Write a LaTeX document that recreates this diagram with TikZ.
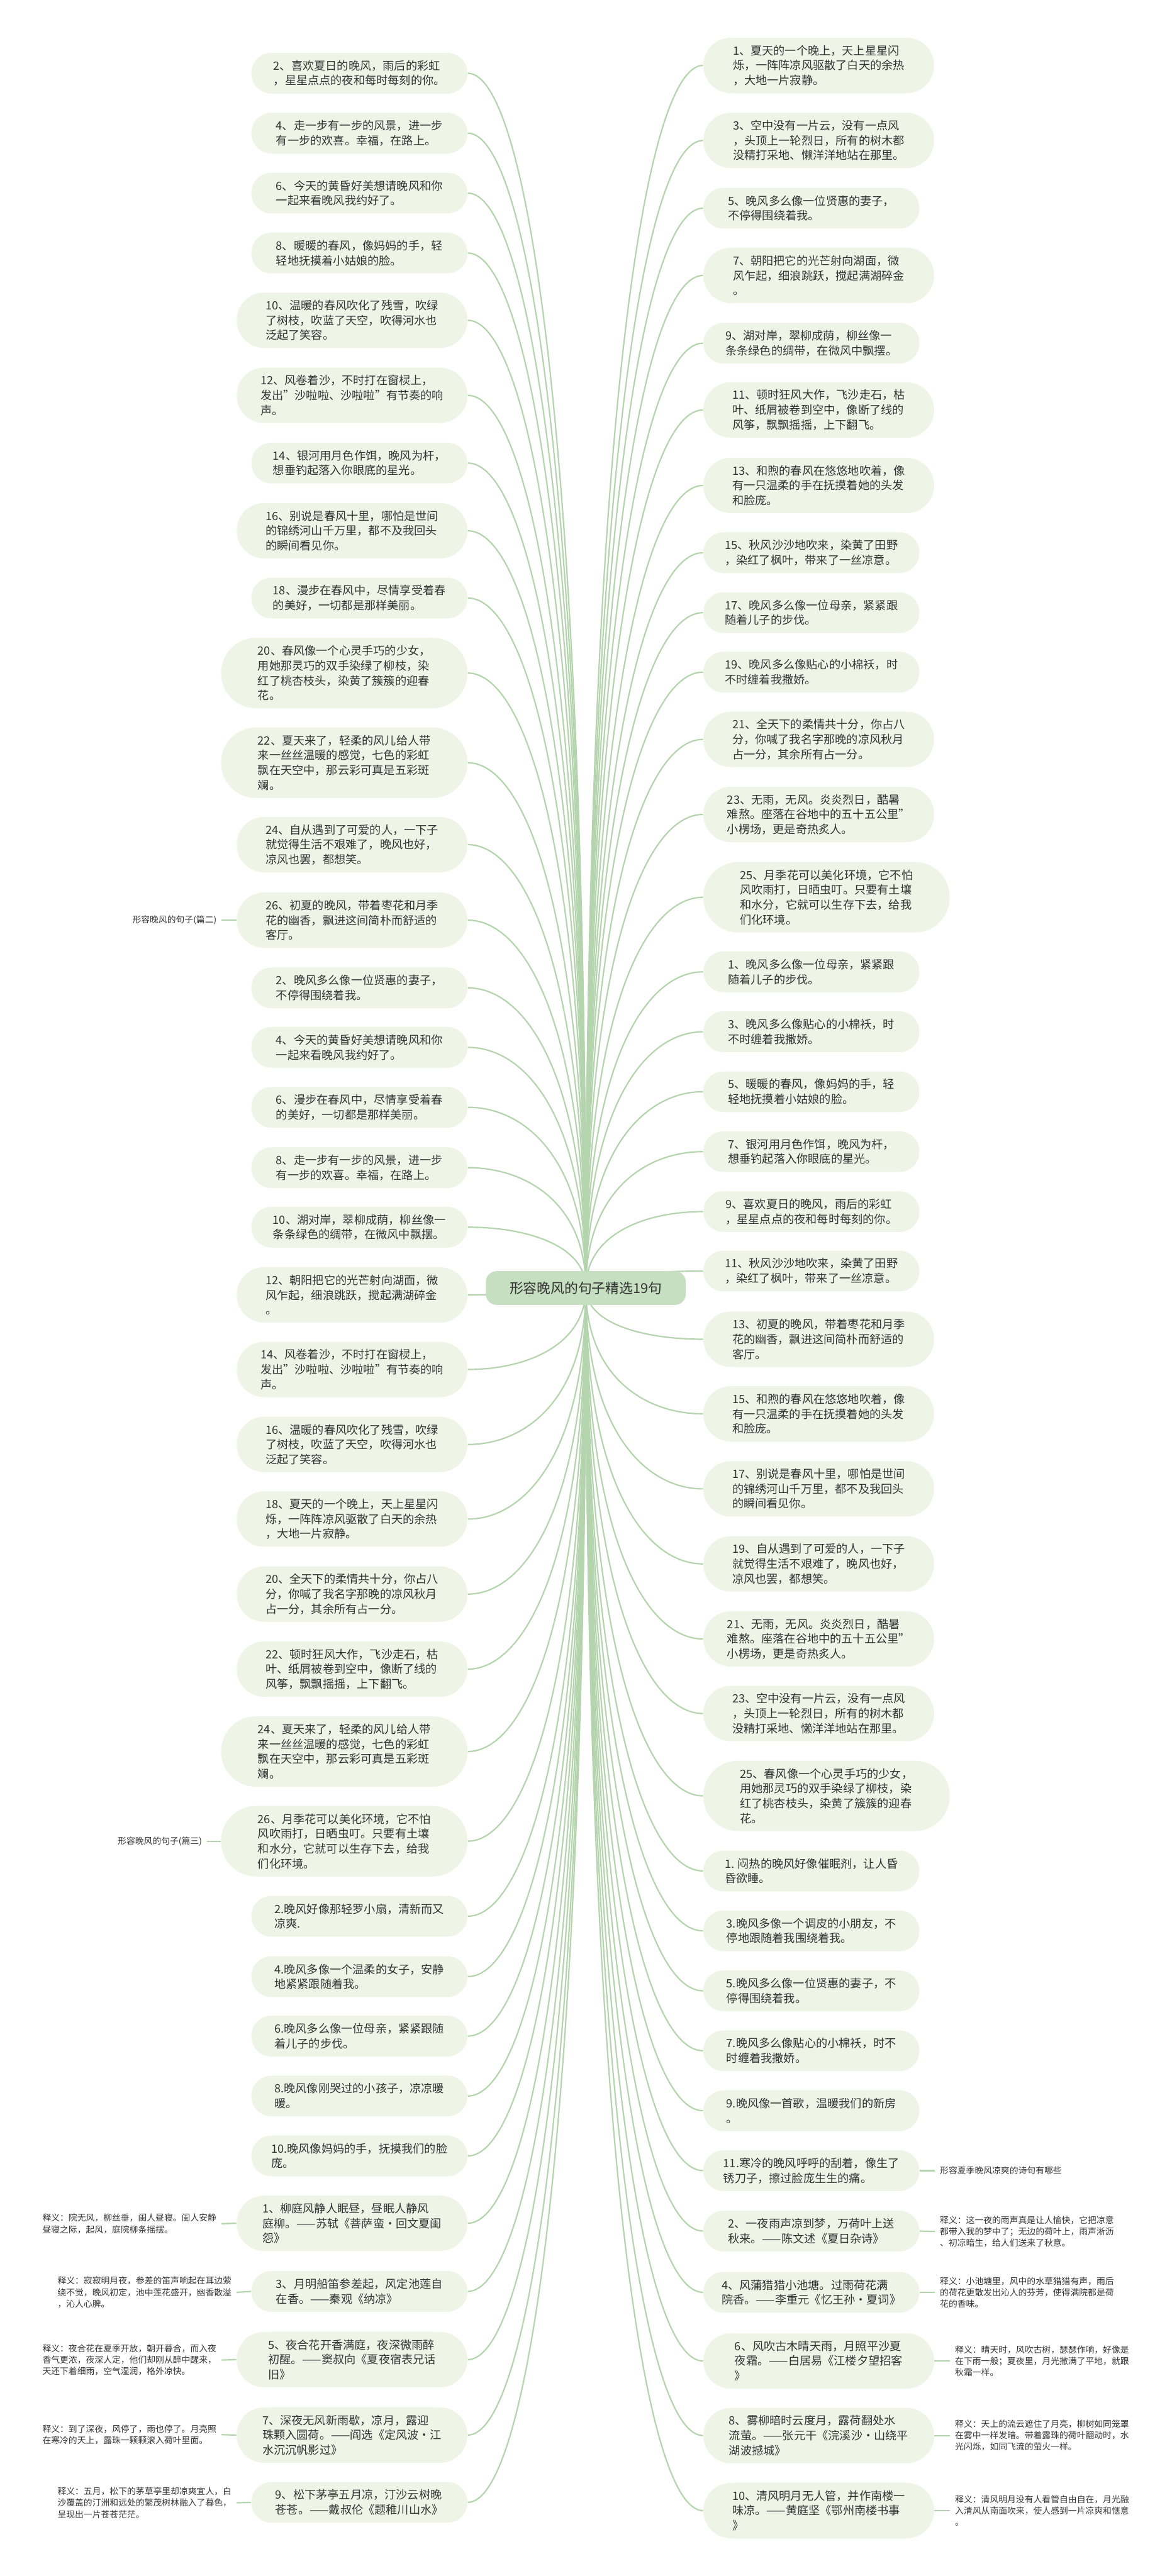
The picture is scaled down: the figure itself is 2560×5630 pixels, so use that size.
\documentclass[tikz,border=0pt]{standalone}
\usepackage{fontspec}
\setmainfont{Noto Sans CJK SC}
\usetikzlibrary{calc,backgrounds}
\definecolor{boxfill}{HTML}{EEF5E7}
\definecolor{rootfill}{HTML}{C6DFC0}
\definecolor{linec}{HTML}{B4D4AE}
\definecolor{txt}{HTML}{333333}
\pgfdeclarelayer{lines}
\pgfsetlayers{background,lines,main}
\newcommand\bfnt{\fontsize{6.25pt}{8.125pt}\selectfont}
\newcommand\nfnt{\fontsize{4.75pt}{6.25pt}\selectfont}
\newcommand\toroot[2]{\draw[conn] (#1.#2) .. controls ($(#1.#2)!0.5!(root.center|-#1.#2)$) and ($(root.center|-#1.#2)!0.3!(root.center)$) .. (root.center);}
\tikzset{
  every node/.style={text=txt},
  cbox/.style={fill=boxfill, align=left, font=\bfnt, inner sep=0pt},
  b2/.style={cbox, minimum width=118pt, minimum height=22.25pt, rounded corners=11pt},
  b3/.style={cbox, minimum width=126pt, minimum height=30.25pt, rounded corners=15pt},
  b4/.style={cbox, minimum width=134.5pt, minimum height=38.5pt, rounded corners=19pt},
  lft/.style={anchor=east},
  rgt/.style={anchor=west},
  note/.style={font=\nfnt, align=left, inner xsep=2.5pt, inner ysep=0pt},
  rootbox/.style={fill=rootfill, rounded corners=6pt, minimum width=109.25pt, minimum height=18.5pt, inner sep=0pt, font=\fontsize{7.5pt}{9pt}\selectfont},
  conn/.style={draw=linec, line width=0.75pt},
}
\begin{document}
\begin{tikzpicture}[x=0.25pt,y=-0.25pt]
\useasboundingbox (0,0) rectangle (2560,5630);
\begin{pgfonlayer}{background}
\fill[white] (0,0) rectangle (2560,5630);
\end{pgfonlayer}

\node[rootbox] (root) at (1280,2815) {形容晚风的句子精选19句};

% ---------- left column ----------
\node[b2,lft] (L1) at (1022,160) {2、喜欢夏日的晚风，雨后的彩虹\\，星星点点的夜和每时每刻的你。};
\node[b2,lft] (L2) at (1022,291) {4、走一步有一步的风景，进一步\\有一步的欢喜。幸福，在路上。};
\node[b2,lft] (L3) at (1022,422) {6、今天的黄昏好美想请晚风和你\\一起来看晚风我约好了。};
\node[b2,lft] (L4) at (1022,553) {8、暖暖的春风，像妈妈的手，轻\\轻地抚摸着小姑娘的脸。};
\node[b3,lft] (L5) at (1022,700) {10、温暖的春风吹化了残雪，吹绿\\了树枝，吹蓝了天空，吹得河水也\\泛起了笑容。};
\node[b3,lft] (L6) at (1022,864) {12、风卷着沙，不时打在窗棂上，\\发出"沙啦啦、沙啦啦"有节奏的响\\声。};
\node[b2,lft] (L7) at (1022,1012) {14、银河用月色作饵，晚风为杆，\\想垂钓起落入你眼底的星光。};
\node[b3,lft] (L8) at (1022,1160) {16、别说是春风十里，哪怕是世间\\的锦绣河山千万里，都不及我回头\\的瞬间看见你。};
\node[b2,lft] (L9) at (1022,1307) {18、漫步在春风中，尽情享受着春\\的美好，一切都是那样美丽。};
\node[b4,lft] (L10) at (1022,1471) {20、春风像一个心灵手巧的少女，\\用她那灵巧的双手染绿了柳枝，染\\红了桃杏枝头，染黄了簇簇的迎春\\花。};
\node[b4,lft] (L11) at (1022,1667) {22、夏天来了，轻柔的风儿给人带\\来一丝丝温暖的感觉，七色的彩虹\\飘在天空中，那云彩可真是五彩斑\\斓。};
\node[b3,lft] (L12) at (1022,1846) {24、自从遇到了可爱的人，一下子\\就觉得生活不艰难了，晚风也好，\\凉风也罢，都想笑。};
\node[b3,lft] (L13) at (1022,2011) {26、初夏的晚风，带着枣花和月季\\花的幽香，飘进这间简朴而舒适的\\客厅。};
\node[b2,lft] (L14) at (1022,2159) {2、晚风多么像一位贤惠的妻子，\\不停得围绕着我。};
\node[b2,lft] (L15) at (1022,2289) {4、今天的黄昏好美想请晚风和你\\一起来看晚风我约好了。};
\node[b2,lft] (L16) at (1022,2420) {6、漫步在春风中，尽情享受着春\\的美好，一切都是那样美丽。};
\node[b2,lft] (L17) at (1022,2552) {8、走一步有一步的风景，进一步\\有一步的欢喜。幸福，在路上。};
\node[b2,lft] (L18) at (1022,2682) {10、湖对岸，翠柳成荫，柳丝像一\\条条绿色的绸带，在微风中飘摆。};
\node[b3,lft] (L19) at (1022,2830) {12、朝阳把它的光芒射向湖面，微\\风乍起，细浪跳跃，搅起满湖碎金\\。};
\node[b3,lft] (L20) at (1022,2993) {14、风卷着沙，不时打在窗棂上，\\发出"沙啦啦、沙啦啦"有节奏的响\\声。};
\node[b3,lft] (L21) at (1022,3157) {16、温暖的春风吹化了残雪，吹绿\\了树枝，吹蓝了天空，吹得河水也\\泛起了笑容。};
\node[b3,lft] (L22) at (1022,3320) {18、夏天的一个晚上，天上星星闪\\烁，一阵阵凉风驱散了白天的余热\\，大地一片寂静。};
\node[b3,lft] (L23) at (1022,3484) {20、全天下的柔情共十分，你占八\\分，你喊了我名字那晚的凉风秋月\\占一分，其余所有占一分。};
\node[b3,lft] (L24) at (1022,3648) {22、顿时狂风大作，飞沙走石，枯\\叶、纸屑被卷到空中，像断了线的\\风筝，飘飘摇摇，上下翻飞。};
\node[b4,lft] (L25) at (1022,3828) {24、夏天来了，轻柔的风儿给人带\\来一丝丝温暖的感觉，七色的彩虹\\飘在天空中，那云彩可真是五彩斑\\斓。};
\node[b4,lft] (L26) at (1022,4024) {26、月季花可以美化环境，它不怕\\风吹雨打，日晒虫叮。只要有土壤\\和水分，它就可以生存下去，给我\\们化环境。};
\node[b2,lft] (L27) at (1022,4188) {2.晚风好像那轻罗小扇，清新而又\\凉爽.};
\node[b2,lft] (L28) at (1022,4320) {4.晚风多像一个温柔的女子，安静\\地紧紧跟随着我。};
\node[b2,lft] (L29) at (1022,4450) {6.晚风多么像一位母亲，紧紧跟随\\着儿子的步伐。};
\node[b2,lft] (L30) at (1022,4581) {8.晚风像刚哭过的小孩子，凉凉暖\\暖。};
\node[b2,lft] (L31) at (1022,4712) {10.晚风像妈妈的手，抚摸我们的脸\\庞。};
\node[b3,lft] (L32) at (1022,4859) {1、柳庭风静人眠昼，昼眠人静风\\庭柳。——苏轼《菩萨蛮·回文夏闺\\怨》};
\node[b2,lft] (L33) at (1022,5008) {3、月明船笛参差起，风定池莲自\\在香。——秦观《纳凉》};
\node[b3,lft] (L34) at (1022,5157) {5、夜合花开香满庭，夜深微雨醉\\初醒。——窦叔向《夏夜宿表兄话\\旧》};
\node[b3,lft] (L35) at (1022,5322) {7、深夜无风新雨歇，凉月，露迎\\珠颗入圆荷。——阎选《定风波·江\\水沉沉帆影过》};
\node[b2,lft] (L36) at (1022,5469) {9、松下茅亭五月凉，汀沙云树晚\\苍苍。——戴叔伦《题稚川山水》};

% ---------- right column ----------
\node[b3,rgt] (R1) at (1536,143) {1、夏天的一个晚上，天上星星闪\\烁，一阵阵凉风驱散了白天的余热\\，大地一片寂静。};
\node[b3,rgt] (R2) at (1536,307) {3、空中没有一片云，没有一点风\\，头顶上一轮烈日，所有的树木都\\没精打采地、懒洋洋地站在那里。};
\node[b2,rgt] (R3) at (1536,455) {5、晚风多么像一位贤惠的妻子，\\不停得围绕着我。};
\node[b3,rgt] (R4) at (1536,602) {7、朝阳把它的光芒射向湖面，微\\风乍起，细浪跳跃，搅起满湖碎金\\。};
\node[b2,rgt] (R5) at (1536,750) {9、湖对岸，翠柳成荫，柳丝像一\\条条绿色的绸带，在微风中飘摆。};
\node[b3,rgt] (R6) at (1536,896) {11、顿时狂风大作，飞沙走石，枯\\叶、纸屑被卷到空中，像断了线的\\风筝，飘飘摇摇，上下翻飞。};
\node[b3,rgt] (R7) at (1536,1061) {13、和煦的春风在悠悠地吹着，像\\有一只温柔的手在抚摸着她的头发\\和脸庞。};
\node[b2,rgt] (R8) at (1536,1208) {15、秋风沙沙地吹来，染黄了田野\\，染红了枫叶，带来了一丝凉意。};
\node[b2,rgt] (R9) at (1536,1339) {17、晚风多么像一位母亲，紧紧跟\\随着儿子的步伐。};
\node[b2,rgt] (R10) at (1536,1469) {19、晚风多么像贴心的小棉袄，时\\不时缠着我撒娇。};
\node[b3,rgt] (R11) at (1536,1616) {21、全天下的柔情共十分，你占八\\分，你喊了我名字那晚的凉风秋月\\占一分，其余所有占一分。};
\node[b3,rgt] (R12) at (1536,1780) {23、无雨，无风。炎炎烈日，酷暑\\难熬。座落在谷地中的五十五公里"\\小楞场，更是奇热炙人。};
\node[b4,rgt] (R13) at (1536,1961) {25、月季花可以美化环境，它不怕\\风吹雨打，日晒虫叮。只要有土壤\\和水分，它就可以生存下去，给我\\们化环境。};
\node[b2,rgt] (R14) at (1536,2124) {1、晚风多么像一位母亲，紧紧跟\\随着儿子的步伐。};
\node[b2,rgt] (R15) at (1536,2255) {3、晚风多么像贴心的小棉袄，时\\不时缠着我撒娇。};
\node[b2,rgt] (R16) at (1536,2386) {5、暖暖的春风，像妈妈的手，轻\\轻地抚摸着小姑娘的脸。};
\node[b2,rgt] (R17) at (1536,2517) {7、银河用月色作饵，晚风为杆，\\想垂钓起落入你眼底的星光。};
\node[b2,rgt] (R18) at (1536,2648) {9、喜欢夏日的晚风，雨后的彩虹\\，星星点点的夜和每时每刻的你。};
\node[b2,rgt] (R19) at (1536,2778) {11、秋风沙沙地吹来，染黄了田野\\，染红了枫叶，带来了一丝凉意。};
\node[b3,rgt] (R20) at (1536,2927) {13、初夏的晚风，带着枣花和月季\\花的幽香，飘进这间简朴而舒适的\\客厅。};
\node[b3,rgt] (R21) at (1536,3090) {15、和煦的春风在悠悠地吹着，像\\有一只温柔的手在抚摸着她的头发\\和脸庞。};
\node[b3,rgt] (R22) at (1536,3254) {17、别说是春风十里，哪怕是世间\\的锦绣河山千万里，都不及我回头\\的瞬间看见你。};
\node[b3,rgt] (R23) at (1536,3418) {19、自从遇到了可爱的人，一下子\\就觉得生活不艰难了，晚风也好，\\凉风也罢，都想笑。};
\node[b3,rgt] (R24) at (1536,3582) {21、无雨，无风。炎炎烈日，酷暑\\难熬。座落在谷地中的五十五公里"\\小楞场，更是奇热炙人。};
\node[b3,rgt] (R25) at (1536,3745) {23、空中没有一片云，没有一点风\\，头顶上一轮烈日，所有的树木都\\没精打采地、懒洋洋地站在那里。};
\node[b4,rgt] (R26) at (1536,3925) {25、春风像一个心灵手巧的少女，\\用她那灵巧的双手染绿了柳枝，染\\红了桃杏枝头，染黄了簇簇的迎春\\花。};
\node[b2,rgt] (R27) at (1536,4089) {1. 闷热的晚风好像催眠剂，让人昏\\昏欲睡。};
\node[b2,rgt] (R28) at (1536,4220) {3.晚风多像一个调皮的小朋友，不\\停地跟随着我围绕着我。};
\node[b2,rgt] (R29) at (1536,4351) {5.晚风多么像一位贤惠的妻子，不\\停得围绕着我。};
\node[b2,rgt] (R30) at (1536,4482) {7.晚风多么像贴心的小棉袄，时不\\时缠着我撒娇。};
\node[b2,rgt] (R31) at (1536,4613) {9.晚风像一首歌，温暖我们的新房\\。};
\node[b2,rgt] (R32) at (1536,4744) {11.寒冷的晚风呼呼的刮着，像生了\\锈刀子，擦过脸庞生生的痛。};
\node[b2,rgt] (R33) at (1536,4876) {2、一夜雨声凉到梦，万荷叶上送\\秋来。——陈文述《夏日杂诗》};
\node[b2,rgt] (R34) at (1536,5010) {4、风蒲猎猎小池塘。过雨荷花满\\院香。——李重元《忆王孙·夏词》};
\node[b3,rgt] (R35) at (1536,5160) {6、风吹古木晴天雨，月照平沙夏\\夜霜。——白居易《江楼夕望招客\\》};
\node[b3,rgt] (R36) at (1536,5323) {8、雾柳暗时云度月，露荷翻处水\\流萤。——张元干《浣溪沙·山绕平\\湖波撼城》};
\node[b3,rgt] (R37) at (1536,5487) {10、清风明月无人管，并作南楼一\\味凉。——黄庭坚《鄂州南楼书事\\》};

% ---------- side labels and notes ----------
\node[note,anchor=east] (g2) at (484,2011) {形容晚风的句子(篇二)};
\node[note,anchor=east] (g3) at (452,4024) {形容晚风的句子(篇三)};
\node[note,anchor=west] (gR) at (2043,4744) {形容夏季晚风凉爽的诗句有哪些};

\node[note,anchor=west] (n1) at (82,4860) {释义：院无风，柳丝垂，闺人昼寝。闺人安静\\昼寝之际，起风，庭院柳条摇摆。};
\node[note,anchor=west] (n3) at (115,5010) {释义：寂寂明月夜，参差的笛声响起在耳边萦\\绕不觉，晚风初定，池中莲花盛开，幽香散溢\\，沁人心脾。};
\node[note,anchor=west] (n5) at (82,5158) {释义：夜合花在夏季开放，朝开暮合，而入夜\\香气更浓，夜深人定，他们却刚从醉中醒来，\\天还下着细雨，空气湿润，格外凉快。};
\node[note,anchor=west] (n7) at (82,5321) {释义：到了深夜，风停了，雨也停了。月亮照\\在寒冷的天上，露珠一颗颗滚入荷叶里面。};
\node[note,anchor=west] (n9) at (115,5470) {释义：五月，松下的茅草亭里却凉爽宜人，白\\沙覆盖的汀洲和远处的繁茂树林融入了暮色，\\呈现出一片苍苍茫茫。};

\node[note,anchor=west] (m2) at (2043,4877) {释义：这一夜的雨声真是让人愉快，它把凉意\\都带入我的梦中了；无边的荷叶上，雨声淅沥\\、初凉暗生，给人们送来了秋意。};
\node[note,anchor=west] (m4) at (2043,5010) {释义：小池塘里，风中的水草猎猎有声，雨后\\的荷花更散发出沁人的芬芳，使得满院都是荷\\花的香味。};
\node[note,anchor=west] (m6) at (2076,5160) {释义：晴天时，风吹古树，瑟瑟作响，好像是\\在下雨一般；夏夜里，月光撒满了平地，就跟\\秋霜一样。};
\node[note,anchor=west] (m8) at (2076,5323) {释义：天上的流云遮住了月亮，柳树如同笼罩\\在雾中一样发暗。带着露珠的荷叶翻动时，水\\光闪烁，如同飞流的萤火一样。};
\node[note,anchor=west] (m10) at (2076,5487) {释义：清风明月没有人看管自由自在，月光融\\入清风从南面吹来，使人感到一片凉爽和惬意\\。};

% ---------- connectors ----------
\begin{pgfonlayer}{lines}
\foreach \i in {1,...,36} {\toroot{L\i}{east}}
\foreach \i in {1,...,37} {\toroot{R\i}{west}}
\draw[conn] (g2.east) -- (L13.west);
\draw[conn] (g3.east) -- (L26.west);
\draw[conn] (R32.east) -- (gR.west);
\draw[conn] (n1.east) -- (L32.west);
\draw[conn] (n3.east) -- (L33.west);
\draw[conn] (n5.east) -- (L34.west);
\draw[conn] (n7.east) -- (L35.west);
\draw[conn] (n9.east) -- (L36.west);
\draw[conn] (R33.east) -- (m2.west);
\draw[conn] (R34.east) -- (m4.west);
\draw[conn] (R35.east) -- (m6.west);
\draw[conn] (R36.east) -- (m8.west);
\draw[conn] (R37.east) -- (m10.west);
\end{pgfonlayer}
\end{tikzpicture}
\end{document}
